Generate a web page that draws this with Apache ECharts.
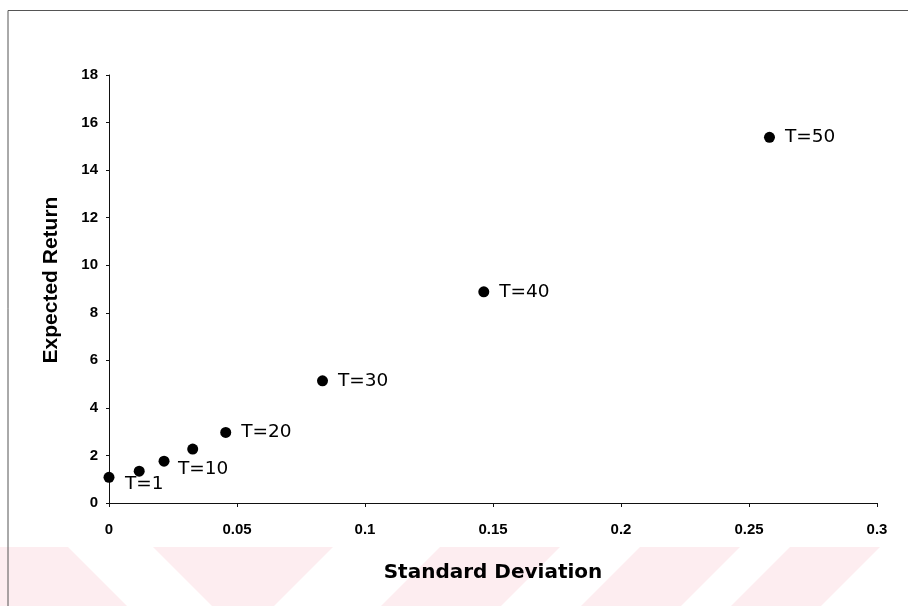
<!DOCTYPE html>
<html>
<head>
<meta charset="utf-8">
<script src="https://cdn.jsdelivr.net/npm/echarts@6/dist/echarts.min.js"></script>
<style>
  html, body { margin: 0; padding: 0; background: #ffffff; }
  #chart { width: 908px; height: 606px; }
</style>
</head>
<body>
<div id="chart"></div>
<script>
// ---- data ----
const stdDeviation = [0, 0.0118, 0.0215, 0.0327, 0.0456, 0.0834, 0.1464, 0.258];
const expectedReturn = [1.08, 1.34, 1.76, 2.27, 2.97, 5.14, 8.88, 15.38];
const pointLabels = ['T=1', '', 'T=10', '', 'T=20', 'T=30', 'T=40', 'T=50'];
const xTicks = [0, 0.05, 0.1, 0.15, 0.2, 0.25, 0.3];
const yTicks = [0, 2, 4, 6, 8, 10, 12, 14, 16, 18];
const xTitle = 'Standard Deviation';
const yTitle = 'Expected Return';

// ---- styling (kept separate from data) ----
const labelOffsets = { 0: [0.5, 7], 2: [-1.5, 8] };
const pink = '#fdedf0';

const chart = echarts.init(document.getElementById('chart'), null, { renderer: 'canvas' });

const seriesData = stdDeviation.map((x, i) => {
  const item = { value: [x, expectedReturn[i]], name: pointLabels[i] };
  if (!pointLabels[i]) {
    item.label = { show: false };
  } else if (labelOffsets[i]) {
    item.label = { offset: labelOffsets[i] };
  }
  return item;
});

function band(pts) {
  return {
    type: 'polygon', z: -10, silent: true,
    shape: { points: pts },
    style: { fill: pink }
  };
}
const graphics = [
  band([[0, 547], [68, 547], [127, 606], [0, 606]]),
  band([[153, 547], [333, 547], [274, 606], [212, 606]]),
  band([[440, 547], [560, 547], [501, 606], [381, 606]]),
  band([[640, 547], [740, 547], [681, 606], [581, 606]]),
  band([[790, 547], [880, 547], [821, 606], [731, 606]]),
  {
    type: 'polyline', z: 10, silent: true,
    shape: { points: [[8, 606], [8, 10.5], [908, 10.5]] },
    style: { stroke: '#555', lineWidth: 1, fill: null }
  }
];

const option = {
  backgroundColor: '#ffffff',
  animation: false,
  graphic: graphics,
  grid: { left: 109, right: 31, top: 75, bottom: 103, containLabel: false },
  xAxis: {
    type: 'value',
    min: xTicks[0],
    max: xTicks[xTicks.length - 1],
    interval: xTicks[1] - xTicks[0],
    name: xTitle,
    nameLocation: 'middle',
    nameGap: 60,
    nameTextStyle: { fontFamily: 'DejaVu Sans', fontWeight: 'bold', fontSize: 20, color: '#000' },
    axisLine: { show: true, lineStyle: { color: '#111', width: 1 } },
    axisTick: { show: true, length: 4, inside: false, lineStyle: { color: '#111' } },
    axisLabel: { margin: 19, fontFamily: 'Liberation Sans', fontWeight: 'bold', fontSize: 15, color: '#000' },
    splitLine: { show: false }
  },
  yAxis: {
    type: 'value',
    min: yTicks[0],
    max: yTicks[yTicks.length - 1],
    interval: yTicks[1] - yTicks[0],
    name: yTitle,
    nameLocation: 'middle',
    nameGap: 47,
    nameTextStyle: { fontFamily: 'Liberation Sans', fontWeight: 'bold', fontSize: 21, color: '#000', padding: [0, 0, 0, 18] },
    axisLine: { show: true, lineStyle: { color: '#111', width: 1 } },
    axisTick: { show: true, length: 3, inside: false, lineStyle: { color: '#111' } },
    axisLabel: { margin: 11, fontFamily: 'Liberation Sans', fontWeight: 'bold', fontSize: 15, color: '#000' },
    splitLine: { show: false }
  },
  series: [{
    type: 'scatter',
    symbol: 'circle',
    symbolSize: 11,
    itemStyle: { color: '#000000', opacity: 1 },
    label: {
      show: true,
      position: 'right',
      distance: 10,
      formatter: p => p.name,
      fontFamily: 'DejaVu Sans',
      fontSize: 18.5,
      color: '#000',
      opacity: 1
    },
    data: seriesData
  }]
};

chart.setOption(option);
</script>
</body>
</html>
